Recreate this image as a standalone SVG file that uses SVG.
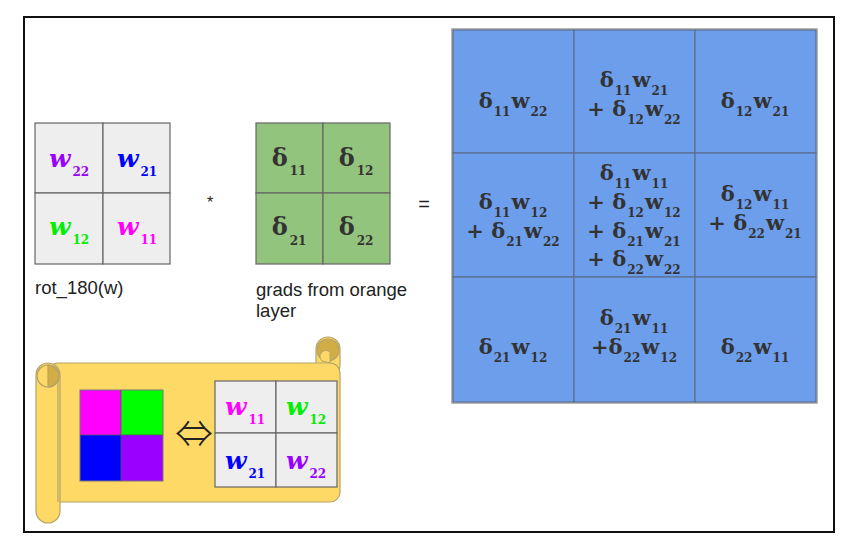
<svg xmlns="http://www.w3.org/2000/svg" width="858" height="550" viewBox="0 0 858 550">
<style>
.frame{fill:#fff;stroke:#111;stroke-width:2}
.gc{fill:#eeeeee;stroke:#666;stroke-width:1.2}
.gr{fill:#93c47d;stroke:#666;stroke-width:1.2}
.bl{fill:#6d9eeb;stroke:#5a6f8e;stroke-width:1.2}
.w{font-family:"DejaVu Serif","Liberation Serif",serif;font-style:italic;font-weight:bold;font-size:25px;text-anchor:middle}
.ws{font-style:normal;font-size:12px}
.d{font-family:"DejaVu Serif","Liberation Serif",serif;font-weight:bold;font-size:24px;fill:#333;text-anchor:middle}
.b{font-family:"DejaVu Serif","Liberation Serif",serif;font-weight:bold;font-size:21px;fill:#333;text-anchor:middle}
.s{font-size:12px}
.lab{font-family:"Liberation Sans",Arial,sans-serif;font-size:18.5px;fill:#222}
.op{font-family:"Liberation Sans",Arial,sans-serif;fill:#222;text-anchor:middle}
.scr{fill:#ffd966;stroke:#b5a36a;stroke-width:1.2}
.scd{fill:#d2ad45;stroke:#b5a36a;stroke-width:1.2}
</style>
<rect class="frame" x="24" y="17" width="810" height="515"/>

<g id="rot180">
  <rect class="gc" x="35" y="123" width="68" height="70"/>
  <rect class="gc" x="103" y="123" width="67" height="70"/>
  <rect class="gc" x="35" y="193" width="68" height="71"/>
  <rect class="gc" x="103" y="193" width="67" height="71"/>
  <text class="w" x="69" y="167" fill="#9900ff">w<tspan class="ws" dx="2" dy="9">22</tspan></text>
  <text class="w" x="137" y="167" fill="#0000ff">w<tspan class="ws" dx="2" dy="9">21</tspan></text>
  <text class="w" x="69" y="235" fill="#00ee00">w<tspan class="ws" dx="2" dy="9">12</tspan></text>
  <text class="w" x="137" y="235" fill="#ff00ff">w<tspan class="ws" dx="2" dy="9">11</tspan></text>
  <text class="lab" x="35" y="294">rot_180(w)</text>
</g>

<text class="op" x="210" y="208" font-size="16">*</text>

<g id="grads">
  <rect class="gr" x="256" y="123" width="67" height="70"/>
  <rect class="gr" x="323" y="123" width="67" height="70"/>
  <rect class="gr" x="256" y="193" width="67" height="71"/>
  <rect class="gr" x="323" y="193" width="67" height="71"/>
  <text class="d" x="289" y="166">δ<tspan class="s" dx="2" dy="9">11</tspan></text>
  <text class="d" x="356" y="166">δ<tspan class="s" dx="2" dy="9">12</tspan></text>
  <text class="d" x="289" y="235">δ<tspan class="s" dx="2" dy="10">21</tspan></text>
  <text class="d" x="356" y="235">δ<tspan class="s" dx="2" dy="10">22</tspan></text>
  <text class="lab" x="256" y="296">grads from orange</text>
  <text class="lab" x="256" y="317">layer</text>
</g>

<text class="op" x="424" y="211" font-size="20">=</text>

<g id="result">
  <rect x="452" y="29" width="365" height="374" fill="none" stroke="#a0a0a0" stroke-width="1.5"/>
  <rect class="bl" x="453" y="30" width="121" height="123"/>
  <rect class="bl" x="574" y="30" width="121" height="123"/>
  <rect class="bl" x="695" y="30" width="121" height="123"/>
  <rect class="bl" x="453" y="153" width="121" height="124"/>
  <rect class="bl" x="574" y="153" width="121" height="124"/>
  <rect class="bl" x="695" y="153" width="121" height="124"/>
  <rect class="bl" x="453" y="277" width="121" height="125"/>
  <rect class="bl" x="574" y="277" width="121" height="125"/>
  <rect class="bl" x="695" y="277" width="121" height="125"/>

  <text class="b" x="513" y="108">δ<tspan class="s" dx="1" dy="8">11</tspan><tspan dx="1" dy="-8">w</tspan><tspan class="s" dx="1" dy="8">22</tspan></text>
  <text class="b" x="634" y="87">δ<tspan class="s" dx="1" dy="8">11</tspan><tspan dx="1" dy="-8">w</tspan><tspan class="s" dx="1" dy="8">21</tspan></text>
  <text class="b" x="634" y="116">+ δ<tspan class="s" dx="1" dy="8">12</tspan><tspan dx="1" dy="-8">w</tspan><tspan class="s" dx="1" dy="8">22</tspan></text>
  <text class="b" x="755" y="108">δ<tspan class="s" dx="1" dy="8">12</tspan><tspan dx="1" dy="-8">w</tspan><tspan class="s" dx="1" dy="8">21</tspan></text>

  <text class="b" x="513" y="209">δ<tspan class="s" dx="1" dy="8">11</tspan><tspan dx="1" dy="-8">w</tspan><tspan class="s" dx="1" dy="8">12</tspan></text>
  <text class="b" x="513" y="238">+ δ<tspan class="s" dx="1" dy="8">21</tspan><tspan dx="1" dy="-8">w</tspan><tspan class="s" dx="1" dy="8">22</tspan></text>
  <text class="b" x="634" y="180">δ<tspan class="s" dx="1" dy="8">11</tspan><tspan dx="1" dy="-8">w</tspan><tspan class="s" dx="1" dy="8">11</tspan></text>
  <text class="b" x="634" y="209">+ δ<tspan class="s" dx="1" dy="8">12</tspan><tspan dx="1" dy="-8">w</tspan><tspan class="s" dx="1" dy="8">12</tspan></text>
  <text class="b" x="634" y="238">+ δ<tspan class="s" dx="1" dy="8">21</tspan><tspan dx="1" dy="-8">w</tspan><tspan class="s" dx="1" dy="8">21</tspan></text>
  <text class="b" x="634" y="266">+ δ<tspan class="s" dx="1" dy="8">22</tspan><tspan dx="1" dy="-8">w</tspan><tspan class="s" dx="1" dy="8">22</tspan></text>
  <text class="b" x="755" y="201">δ<tspan class="s" dx="1" dy="8">12</tspan><tspan dx="1" dy="-8">w</tspan><tspan class="s" dx="1" dy="8">11</tspan></text>
  <text class="b" x="755" y="230">+ δ<tspan class="s" dx="1" dy="8">22</tspan><tspan dx="1" dy="-8">w</tspan><tspan class="s" dx="1" dy="8">21</tspan></text>

  <text class="b" x="513" y="354">δ<tspan class="s" dx="1" dy="8">21</tspan><tspan dx="1" dy="-8">w</tspan><tspan class="s" dx="1" dy="8">12</tspan></text>
  <text class="b" x="634" y="325">δ<tspan class="s" dx="1" dy="8">21</tspan><tspan dx="1" dy="-8">w</tspan><tspan class="s" dx="1" dy="8">11</tspan></text>
  <text class="b" x="634" y="354">+δ<tspan class="s" dx="1" dy="8">22</tspan><tspan dx="1" dy="-8">w</tspan><tspan class="s" dx="1" dy="8">12</tspan></text>
  <text class="b" x="755" y="354">δ<tspan class="s" dx="1" dy="8">22</tspan><tspan dx="1" dy="-8">w</tspan><tspan class="s" dx="1" dy="8">11</tspan></text>
</g>

<g id="scroll">
  <rect class="scr" x="316" y="337" width="24" height="40" rx="12"/>
  <rect class="scr" x="48" y="363" width="292" height="139" rx="10"/>
  <rect class="scr" x="36" y="363" width="24" height="160" rx="12"/>
  <path class="scd" d="M48 365 A11 11 0 0 1 48 387 Z"/>
  <circle cx="48" cy="376" r="11" fill="none" stroke="#b5a36a" stroke-width="1.2"/>
  <line x1="58" y1="380" x2="58" y2="502" stroke="#b5a36a" stroke-width="1.2"/>
  <circle class="scd" cx="328" cy="350" r="11"/>
  <path d="M322 361 A5 5 0 0 1 330 352 L330 363 Z" fill="#ffd966" stroke="#b5a36a" stroke-width="1"/>
  <rect x="80" y="390" width="41" height="45" fill="#ff00ff"/>
  <rect x="121" y="390" width="42" height="45" fill="#00ff00"/>
  <rect x="80" y="435" width="41" height="46" fill="#0000ff"/>
  <rect x="121" y="435" width="42" height="46" fill="#9900ff"/>
  <rect x="80" y="390" width="83" height="91" fill="none" stroke="#777" stroke-width="1"/>
  <line x1="121" y1="390" x2="121" y2="481" stroke="#555" stroke-width="0.8"/>
  <line x1="80" y1="435" x2="163" y2="435" stroke="#555" stroke-width="0.8"/>
  <text x="194" y="447" font-family="'Noto Sans CJK SC', 'DejaVu Sans', sans-serif" font-weight="300" font-size="38" fill="#222" text-anchor="middle">⇔</text>
  <rect class="gc" x="215" y="381" width="61" height="52"/>
  <rect class="gc" x="276" y="381" width="61" height="52"/>
  <rect class="gc" x="215" y="433" width="61" height="54"/>
  <rect class="gc" x="276" y="433" width="61" height="54"/>
  <text class="w" x="245" y="415" font-size="23" fill="#ff00ff">w<tspan class="ws" dx="2" dy="9">11</tspan></text>
  <text class="w" x="306" y="415" font-size="23" fill="#00ee00">w<tspan class="ws" dx="2" dy="9">12</tspan></text>
  <text class="w" x="245" y="469" font-size="23" fill="#0000ff">w<tspan class="ws" dx="2" dy="9">21</tspan></text>
  <text class="w" x="306" y="469" font-size="23" fill="#9900ff">w<tspan class="ws" dx="2" dy="9">22</tspan></text>
</g>
</svg>
